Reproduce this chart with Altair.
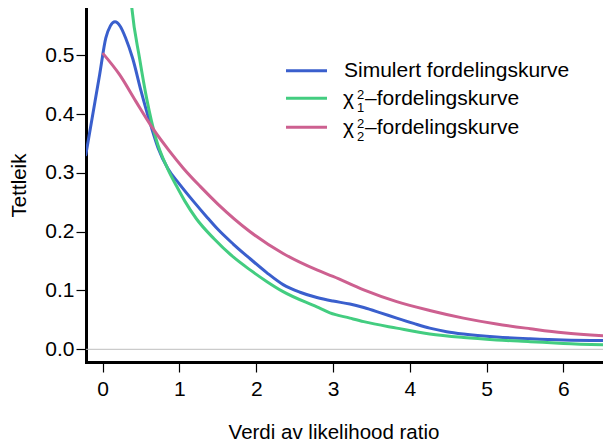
import altair as alt
import pandas as pd

# ---- data ----
series_names = ["Simulert fordelingskurve", "chi1", "chi2"]
series_colors = ["#3A5FCD", "#43CD80", "#CD6090"]

blue_x = [-0.22, -0.13, -0.04, 0.04, 0.10, 0.16, 0.23, 0.30, 0.39, 0.50,
          0.61, 0.72, 0.85, 1.00, 1.18, 1.35, 1.50, 1.70, 1.92, 2.14,
          2.35, 2.57, 2.79, 3.00, 3.22, 3.40, 3.62, 3.83, 4.05, 4.26,
          4.48, 4.70, 5.13, 5.57, 6.00, 6.65]
blue_y = [0.331, 0.399, 0.467, 0.529, 0.550, 0.557, 0.549, 0.529, 0.495, 0.439,
          0.388, 0.343, 0.307, 0.281, 0.252, 0.226, 0.204, 0.179, 0.154, 0.130,
          0.110, 0.097, 0.088, 0.082, 0.077, 0.071, 0.062, 0.053, 0.044, 0.036,
          0.030, 0.026, 0.021, 0.018, 0.016, 0.015]

green_x = [0.34, 0.38, 0.48, 0.575, 0.69, 0.85, 0.96, 1.07, 1.22, 1.45,
           1.70, 1.92, 2.14, 2.35, 2.79, 2.96, 3.22, 3.40, 3.83, 4.26,
           4.70, 5.13, 5.57, 6.00, 6.65]
green_y = [0.640, 0.580, 0.495, 0.425, 0.360, 0.306, 0.278, 0.252, 0.222, 0.188,
           0.157, 0.135, 0.115, 0.098, 0.072, 0.062, 0.053, 0.047, 0.036, 0.026,
           0.020, 0.016, 0.013, 0.010, 0.007]

pink_x = [0.01, 0.22, 0.43, 0.65, 0.87, 1.05, 1.27, 1.50, 1.92, 2.35,
          2.79, 3.00, 3.40, 3.83, 4.26, 4.70, 5.13, 5.57, 6.00, 6.65]
pink_y = [0.502, 0.467, 0.422, 0.376, 0.337, 0.308, 0.277, 0.247, 0.200, 0.163,
          0.135, 0.124, 0.101, 0.081, 0.066, 0.053, 0.043, 0.035, 0.028, 0.022]

x_ticks = [0, 1, 2, 3, 4, 5, 6]
y_ticks = [0.0, 0.1, 0.2, 0.3, 0.4, 0.5]
legend_main = ["Simulert fordelingskurve", "\u2013fordelingskurve", "\u2013fordelingskurve"]
chi_sub = ["1", "2"]

FONT = "Liberation Sans, Arial, sans-serif"
FS = 21

x_scale = alt.Scale(domain=[-0.2175, 6.517], nice=False, zero=False)
y_scale = alt.Scale(domain=[-0.0216, 0.5804], nice=False, zero=False)

x_axis = alt.Axis(values=x_ticks, format="d", grid=False, domainWidth=3,
                  domainColor="black", domainCap="square", tickColor="black",
                  tickWidth=1.2, tickSize=10, labelFontSize=FS, labelFont=FONT,
                  labelColor="black", labelPadding=6, labelFlush=False,
                  title="Verdi av likelihood ratio", titleFont=FONT,
                  titleFontSize=20.5, titleFontWeight="normal", titleColor="black",
                  titleX=247.5, titleY=76, titleBaseline="alphabetic",
                  titleAlign="center")
y_axis = alt.Axis(values=y_ticks, format=".1f", grid=False, domainWidth=3,
                  domainColor="black", domainCap="square", tickColor="black",
                  tickWidth=1.2, tickSize=10, labelFontSize=FS, labelFont=FONT,
                  labelColor="black", labelPadding=2, labelFlush=False,
                  title="Tettleik", titleFont=FONT, titleFontSize=20.5,
                  titleFontWeight="normal", titleColor="black",
                  titleX=-61, titleY=177, titleBaseline="alphabetic",
                  titleAlign="center", titleAngle=270)

def line_df(xs, ys):
    return pd.DataFrame({"x": xs, "y": ys})

zero = alt.Chart(pd.DataFrame({"y": [0.0]})).mark_rule(
    color="#BEBEBE", strokeWidth=1).encode(
    y=alt.Y("y:Q", scale=y_scale, axis=y_axis))

def curve(xs, ys, color):
    return alt.Chart(line_df(xs, ys)).mark_line(
        color=color, strokeWidth=3, clip=True, interpolate="monotone",
        strokeCap="round").encode(
        x=alt.X("x:Q", scale=x_scale, axis=x_axis),
        y=alt.Y("y:Q", scale=y_scale, axis=y_axis),
        order="x:Q")

blue = curve(blue_x, blue_y, series_colors[0])
green = curve(green_x, green_y, series_colors[1])
pink = curve(pink_x, pink_y, series_colors[2])

# ---- hand-built legend ----
legend_layers = []
row_line_y = [62.7, 90.3, 119.3]
row_base_y = [68.7, 97.0, 125.5]
one = pd.DataFrame({"k": [0]})
for i in range(3):
    legend_layers.append(
        alt.Chart(one).mark_rule(color=series_colors[i], strokeWidth=3).encode(
            x=alt.value(200), x2=alt.value(241), y=alt.value(row_line_y[i])))
legend_layers.append(
    alt.Chart(one).mark_text(align="left", baseline="alphabetic", fontSize=FS,
                             font=FONT, color="black").encode(
        x=alt.value(258), y=alt.value(row_base_y[0]),
        text=alt.value(legend_main[0])))
for j in range(2):
    i = j + 1
    legend_layers.append(
        alt.Chart(one).mark_text(align="left", baseline="alphabetic", fontSize=FS,
                                 font=FONT, color="black").encode(
            x=alt.value(257), y=alt.value(row_base_y[i]), text=alt.value("\u03c7")))
    legend_layers.append(
        alt.Chart(one).mark_text(align="left", baseline="alphabetic", fontSize=13,
                                 font=FONT, color="black").encode(
            x=alt.value(271), y=alt.value(row_base_y[i] - 6), text=alt.value("2")))
    legend_layers.append(
        alt.Chart(one).mark_text(align="left", baseline="alphabetic", fontSize=13,
                                 font=FONT, color="black").encode(
            x=alt.value(271), y=alt.value(row_base_y[i] + 7), text=alt.value(chi_sub[j])))
    legend_layers.append(
        alt.Chart(one).mark_text(align="left", baseline="alphabetic", fontSize=FS,
                                 font=FONT, color="black").encode(
            x=alt.value(279), y=alt.value(row_base_y[i]), text=alt.value(legend_main[i])))

chart = alt.layer(zero, blue, green, pink, *legend_layers).properties(
    width=517, height=354,
    autosize=alt.AutoSizeParams(type="none"),
    padding={"left": 78, "top": 0, "right": 0, "bottom": 79},
).configure_view(stroke=None)

chart.save("out.html", embed_options={"renderer": "svg", "actions": False})
